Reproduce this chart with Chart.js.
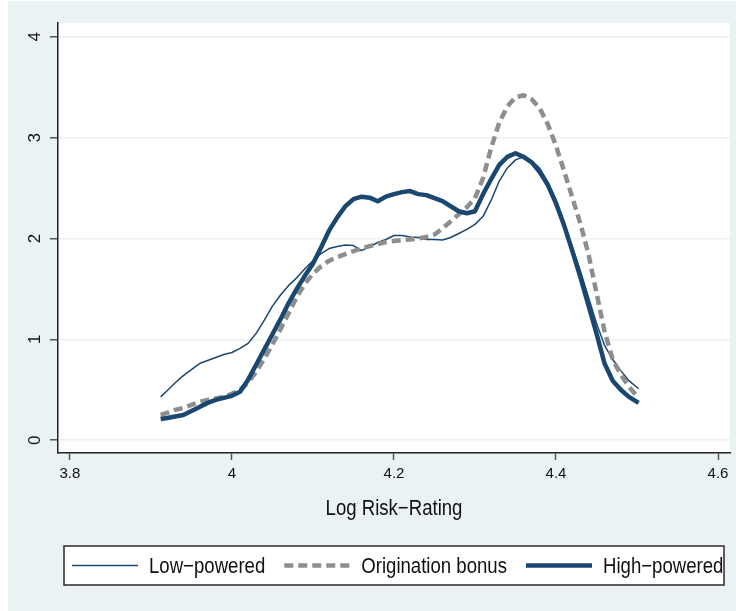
<!DOCTYPE html>
<html>
<head>
<meta charset="utf-8">
<script src="https://cdn.jsdelivr.net/npm/chart.js@4/dist/chart.umd.min.js"></script>
<style>
  html, body { margin: 0; padding: 0; background: #fff; }
  #wrap { width: 736px; height: 611px; }
</style>
</head>
<body>
<div id="wrap"><canvas id="chart" width="736" height="611"></canvas></div>
<script>
// values
const xValues = [3.912, 3.92, 3.93, 3.94, 3.95, 3.96, 3.97, 3.98, 3.99, 4.00,
  4.01, 4.02, 4.03, 4.04, 4.05, 4.06, 4.07, 4.08, 4.09, 4.10,
  4.11, 4.12, 4.13, 4.14, 4.15, 4.16, 4.17, 4.18, 4.19, 4.20,
  4.21, 4.22, 4.23, 4.24, 4.25, 4.26, 4.27, 4.28, 4.29, 4.30,
  4.31, 4.32, 4.33, 4.34, 4.35, 4.36, 4.37, 4.38, 4.39, 4.40,
  4.41, 4.42, 4.43, 4.44, 4.45, 4.46, 4.47, 4.48, 4.49, 4.502];

const lowPowered = [0.43, 0.49, 0.57, 0.64, 0.70, 0.76, 0.79, 0.82, 0.85, 0.87,
  0.91, 0.96, 1.06, 1.19, 1.33, 1.44, 1.535, 1.61, 1.70, 1.78,
  1.85, 1.90, 1.92, 1.935, 1.93, 1.88, 1.92, 1.96, 1.99, 2.03,
  2.03, 2.015, 2.01, 1.99, 1.99, 1.985, 2.01, 2.05, 2.09, 2.14,
  2.22, 2.38, 2.57, 2.70, 2.78, 2.81, 2.77, 2.695, 2.56, 2.38,
  2.16, 1.92, 1.68, 1.42, 1.16, 0.94, 0.80, 0.69, 0.59, 0.51];

const originationBonus = [0.25, 0.27, 0.30, 0.32, 0.35, 0.38, 0.40, 0.415, 0.43, 0.46,
  0.50, 0.57, 0.68, 0.81, 0.95, 1.10, 1.26, 1.42, 1.55, 1.65,
  1.725, 1.78, 1.815, 1.845, 1.875, 1.90, 1.925, 1.945, 1.965, 1.975,
  1.985, 1.99, 2.00, 2.015, 2.04, 2.10, 2.17, 2.24, 2.31, 2.40,
  2.60, 2.90, 3.15, 3.31, 3.40, 3.42, 3.38, 3.29, 3.13, 2.92,
  2.67, 2.41, 2.15, 1.85, 1.46, 1.08, 0.80, 0.65, 0.53, 0.42];

const highPowered = [0.21, 0.22, 0.235, 0.25, 0.29, 0.33, 0.37, 0.40, 0.42, 0.44,
  0.48, 0.60, 0.75, 0.90, 1.05, 1.20, 1.36, 1.50, 1.63, 1.75,
  1.91, 2.08, 2.21, 2.32, 2.39, 2.415, 2.405, 2.37, 2.415, 2.44,
  2.46, 2.47, 2.44, 2.43, 2.40, 2.37, 2.32, 2.27, 2.25, 2.27,
  2.44, 2.59, 2.73, 2.81, 2.845, 2.81, 2.755, 2.66, 2.53, 2.35,
  2.13, 1.88, 1.62, 1.34, 1.06, 0.76, 0.59, 0.50, 0.43, 0.37];

const xTicks = [3.8, 4, 4.2, 4.4, 4.6];
const yTicks = [0, 1, 2, 3, 4];
const seriesLabels = ['Low−powered', 'Origination bonus', 'High−powered'];
const xTitle = 'Log Risk−Rating';

const navy = '#1a476f';
const grey = '#8e8e8e';
const bg = '#eaf2f3';
const fontFamily = "'Liberation Sans', Arial, sans-serif";
const squeeze = 0.845; // the original text is condensed

const points = ys => ys.map((y, i) => ({ x: xValues[i], y: y }));

// draws text squeezed horizontally, starting (or centred) at x
function narrowText(ctx, text, x, y, align) {
  const w = ctx.measureText(text).width * squeeze;
  const x0 = align === 'center' ? x - w / 2 : x;
  ctx.save();
  ctx.translate(x0, y);
  ctx.scale(squeeze, 1);
  ctx.textAlign = 'left';
  ctx.fillText(text, 0, 0);
  ctx.restore();
  return w;
}

// stata-ish background: light region, white plot area
const backdrop = {
  id: 'backdrop',
  beforeDraw(chart) {
    const { ctx, chartArea: a } = chart;
    ctx.save();
    ctx.fillStyle = '#fff';
    ctx.fillRect(0, 0, chart.width, chart.height);
    ctx.fillStyle = bg;
    ctx.fillRect(8, 1, chart.width - 8, chart.height - 1);
    ctx.fillStyle = '#fff';
    ctx.fillRect(a.left, a.top, a.right - a.left, a.bottom - a.top);
    ctx.restore();
  }
};

// axis title plus a boxed one-row legend
const boxLegend = {
  id: 'boxLegend',
  afterDraw(chart) {
    const { ctx, chartArea: a } = chart;
    ctx.save();
    ctx.font = '22px ' + fontFamily;
    ctx.textBaseline = 'alphabetic';
    ctx.fillStyle = '#111';
    narrowText(ctx, xTitle, (a.left + a.right) / 2, 515, 'center');

    const top = 546, h = 39, left = 64, right = 724;
    const mid = top + h / 2;
    ctx.fillStyle = '#fff';
    ctx.fillRect(left, top, right - left, h);
    ctx.strokeStyle = '#2a2a2a';
    ctx.lineWidth = 1.5;
    ctx.strokeRect(left, top, right - left, h);
    let x = 72;
    seriesLabels.forEach(label => {
      const ds = chart.data.datasets.find(d => d.label === label);
      ctx.beginPath();
      ctx.strokeStyle = ds.borderColor;
      ctx.lineWidth = ds.borderWidth;
      ctx.setLineDash(ds.borderDash || []);
      ctx.moveTo(x, mid);
      ctx.lineTo(x + 66, mid);
      ctx.stroke();
      ctx.setLineDash([]);
      x += 77;
      ctx.fillStyle = '#111';
      x += narrowText(ctx, label, x, 573, 'left') + 19;
    });
    ctx.restore();
  }
};

const chart = new Chart(document.getElementById('chart'), {
  type: 'line',
  data: {
    datasets: [{
      label: seriesLabels[0],
      data: points(lowPowered),
      borderColor: navy,
      borderWidth: 1.5,
      order: 2
    }, {
      label: seriesLabels[1],
      data: points(originationBonus),
      borderColor: grey,
      borderWidth: 4.5,
      borderDash: [9, 5],
      order: 1
    }, {
      label: seriesLabels[2],
      data: points(highPowered),
      borderColor: navy,
      borderWidth: 4.5,
      order: 0
    }]
  },
  options: {
    responsive: false,
    animation: false,
    devicePixelRatio: 1,
    layout: { padding: { left: 8, top: 23, right: 6, bottom: 81 } },
    elements: {
      point: { radius: 0 },
      line: { tension: 0, fill: false, borderJoinStyle: 'round' }
    },
    plugins: {
      legend: { display: false },
      tooltip: { enabled: false }
    },
    scales: {
      x: {
        type: 'linear',
        min: 3.7853,
        max: 4.6148,
        afterBuildTicks: s => { s.ticks = xTicks.map(v => ({ value: v })); },
        afterFit: s => { s.height = 77; },
        border: { color: '#222', width: 1.5 },
        grid: { drawOnChartArea: false, tickLength: 7, tickColor: '#555', tickWidth: 1.5 },
        ticks: {
          padding: 5,
          color: '#111',
          maxRotation: 0,
          font: { family: fontFamily, size: 15 },
          callback: v => String(v)
        }
      },
      y: {
        type: 'linear',
        min: -0.127,
        max: 4.137,
        afterBuildTicks: s => { s.ticks = yTicks.map(v => ({ value: v })); },
        afterFit: s => { s.width = 50; },
        border: { color: '#222', width: 1.5 },
        grid: { color: bg, lineWidth: 1.5, tickLength: 8, tickColor: '#555', tickWidth: 1.5 },
        ticks: {
          padding: 10,
          color: '#111',
          minRotation: 90,
          maxRotation: 90,
          crossAlign: 'center',
          font: { family: fontFamily, size: 17 },
          callback: v => String(v)
        }
      }
    }
  },
  plugins: [backdrop, boxLegend]
});
</script>
</body>
</html>
